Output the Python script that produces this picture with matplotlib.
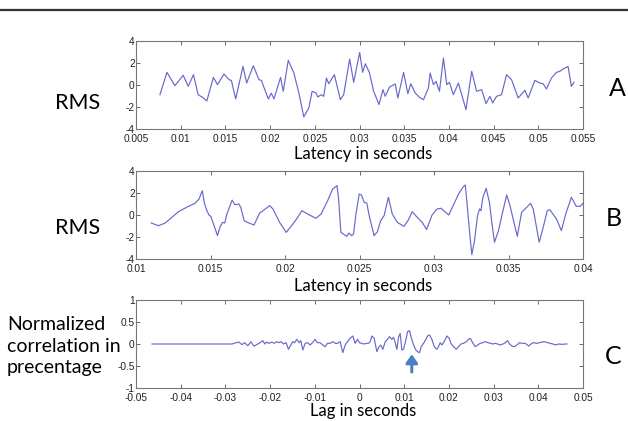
import matplotlib
matplotlib.use('Agg')
import matplotlib.pyplot as plt
from matplotlib.lines import Line2D

# --- data ---
# panel A: RMS vs latency (s)
a_t = [0.00768, 0.00846, 0.00935, 0.01028, 0.01084, 0.01143, 0.01195, 0.01244, 0.01292,
       0.01366, 0.01411, 0.01485, 0.01541, 0.01567, 0.01615, 0.01697, 0.01738, 0.01812,
       0.01876, 0.01902, 0.0198, 0.02013, 0.02043, 0.02117, 0.02147, 0.02203, 0.02266,
       0.02322, 0.02377, 0.02433, 0.0247, 0.02515, 0.02533, 0.02571, 0.026, 0.0263,
       0.02656, 0.02719, 0.02786, 0.02823, 0.0289, 0.02935, 0.03002, 0.03035, 0.03065,
       0.0311, 0.03158, 0.03218, 0.03262, 0.03288, 0.03336, 0.034, 0.03429, 0.03493,
       0.03541, 0.03574, 0.03623, 0.03671, 0.03716, 0.03771, 0.0379, 0.03827, 0.03857,
       0.03894, 0.03939, 0.03976, 0.04006, 0.0405, 0.04106, 0.04191, 0.04255, 0.0431,
       0.04366, 0.04415, 0.04459, 0.04489, 0.04533, 0.04589, 0.04645, 0.04701, 0.04775,
       0.0485, 0.04887, 0.04961, 0.05017, 0.05054, 0.05091, 0.05147, 0.05203, 0.0524,
       0.05277, 0.05333, 0.0537, 0.054]
a_rms = [-0.88, 1.15, -0.06, 0.88, -0.12, 0.94, -0.88, -1.12, -1.45,
         0.69, 0.03, 1.0, 0.48, 0.42, -1.27, 1.69, 0.18, 1.75,
         0.48, 0.42, -1.27, -0.73, -1.27, 0.69, -0.57, 2.24, 1.09,
         -0.73, -2.9, -2.08, -0.57, -0.73, -1.09, -0.88, -1.03, 0.63,
         0.12, 0.94, -1.33, -0.88, 2.36, 0.24, 2.96, 1.15, 1.93,
         1.15, -0.57, -1.78, -0.42, -1.03, -0.18, 0.09, -1.18, 1.15,
         -0.79, 0.12, -0.73, -1.12, -1.33, -0.27, 1.09, 0.03, 0.33,
         -0.57, 2.45, 0.03, 0.24, -0.88, 0.18, -2.24, 1.24, -0.57,
         -0.42, -1.69, -1.03, -1.63, -1.03, -0.88, 0.94, 0.48, -1.18,
         -0.48, -1.18, 0.42, 0.18, 0.12, -0.36, 0.63, 1.15, 1.24,
         1.45, 1.69, -0.12, 0.24]

# panel B: RMS vs latency (s)
b_t = [0.01102, 0.01151, 0.01196, 0.01285, 0.01352, 0.01396, 0.01423, 0.01445, 0.01458,
       0.01474, 0.0149, 0.01503, 0.01547, 0.01563, 0.01581, 0.01596, 0.01608, 0.01645,
       0.01663, 0.0169, 0.01703, 0.01726, 0.01748, 0.01792, 0.0183, 0.01852, 0.01897,
       0.01919, 0.01964, 0.02008, 0.02053, 0.02086, 0.02113, 0.02164, 0.02208, 0.02242,
       0.02286, 0.0232, 0.02335, 0.02349, 0.0236, 0.02375, 0.02398, 0.02415, 0.02429,
       0.02447, 0.0246, 0.02476, 0.02498, 0.02513, 0.02531, 0.02549, 0.02565, 0.02598,
       0.0262, 0.02642, 0.02665, 0.02694, 0.0272, 0.02754, 0.02798, 0.02825, 0.02854,
       0.02887, 0.02921, 0.0295, 0.02987, 0.03021, 0.03047, 0.03099, 0.03165, 0.03194,
       0.0321, 0.03221, 0.03239, 0.03254, 0.03272, 0.03292, 0.03306, 0.03315, 0.03328,
       0.0335, 0.03372, 0.03388, 0.03406, 0.03433, 0.03455, 0.03488, 0.0351, 0.03559,
       0.03588, 0.03622, 0.03648, 0.03666, 0.03706, 0.03733, 0.0376, 0.03777, 0.03822,
       0.03855, 0.03884, 0.03922, 0.03955, 0.03982, 0.04]
b_rms = [-0.73, -0.97, -0.73, 0.3, 0.79, 1.06, 1.45, 2.21, 1.15,
         0.45, 0.0, -0.15, -1.88, -1.12, -0.67, -0.73, 0.0, 1.36,
         0.94, 1.0, 0.7, -0.52, -0.67, -0.91, 0.18, 0.39, 0.85,
         0.55, -0.67, -1.58, -0.82, -0.21, 0.39, 0.0, -0.3, 0.09,
         1.3, 2.36, 2.52, 2.67, 1.45, -1.58, -1.79, -1.94, -1.64,
         -1.88, -1.73, 0.09, 1.91, 1.82, 1.15, 1.09, -0.06, -1.88,
         -1.52, -0.52, -0.06, 1.61, 0.09, -0.67, -1.03, -0.52, 0.3,
         -0.21, -0.67, -1.33, 0.0, 0.55, 0.61, 0.0, 1.91, 2.52,
         2.73, 1.15, -1.58, -3.61, -2.33, -0.06, 0.55, 0.39, 1.61,
         2.42, 1.15, -0.67, -2.48, -1.42, -0.06, 1.82, 0.85, -1.94,
         0.24, 0.7, 1.06, 0.55, -2.48, -1.12, 0.39, 0.48, -0.36,
         -1.42, 0.09, 1.61, 0.79, 0.79, 1.06]

# panel C: normalized cross-correlation vs lag (s)
c_lag = [-0.0464, -0.0285, -0.0279, -0.0270, -0.0263, -0.0257, -0.0250, -0.0243, -0.0236,
         -0.02224, -0.02164, -0.02119, -0.02075, -0.02022, -0.01963, -0.0191, -0.01851,
         -0.01799, -0.01754, -0.01701, -0.01642, -0.0159, -0.01537, -0.01493, -0.01455,
         -0.01403, -0.01351, -0.01313, -0.01269, -0.01216, -0.01164, -0.01104, -0.01052,
         -0.00993, -0.0094, -0.00881, -0.00821, -0.00769, -0.00716, -0.00657, -0.00597,
         -0.00545, -0.00493, -0.00433, -0.00373, -0.00321, -0.00269, -0.00209, -0.00149,
         -0.00097, -0.00045, 0.0, 0.00052, 0.00104, 0.00164, 0.00201, 0.00239, 0.00276,
         0.00328, 0.00388, 0.0044, 0.00478, 0.00522, 0.00575, 0.00627, 0.00672, 0.00724,
         0.00761, 0.00799, 0.00836, 0.00873, 0.0091, 0.00948, 0.00985, 0.01037, 0.01075,
         0.01119, 0.01172, 0.01224, 0.01261, 0.01299, 0.01343, 0.01381, 0.01433, 0.01485,
         0.01522, 0.01567, 0.01619, 0.01672, 0.01731, 0.01769, 0.01806, 0.01843, 0.01881,
         0.01918, 0.01955, 0.02007, 0.02045, 0.02104, 0.02164, 0.02216, 0.02269, 0.02328,
         0.02388, 0.0244, 0.02478, 0.0253, 0.0259, 0.02642, 0.02701, 0.02761, 0.02813,
         0.02873, 0.02925, 0.02985, 0.03037, 0.0309, 0.03149, 0.03209, 0.03261, 0.03313,
         0.03358, 0.0341, 0.03463, 0.03522, 0.03575, 0.03634, 0.03709, 0.03784, 0.03836,
         0.03896, 0.0397, 0.0403, 0.04082, 0.04134, 0.04209, 0.04269, 0.04328, 0.04381,
         0.04455, 0.0453, 0.04604, 0.04642]
c_corr = [0.0, 0.0, 0.02, 0.045, -0.015, 0.03, -0.04, 0.05, -0.05,
          0.03, 0.076, 0.0, 0.045, 0.015, 0.045, 0.015, 0.053,
          0.03, 0.053, 0.0, 0.03, -0.12, -0.023, 0.053, 0.03,
          0.106, 0.03, 0.076, -0.136, 0.015, 0.03, -0.023, 0.03,
          0.106, 0.03, 0.03, -0.023, -0.06, 0.015, 0.015, 0.053,
          0.015, 0.015, 0.053, -0.197, -0.023, 0.053, 0.129, 0.182,
          0.015, 0.106, 0.03, 0.015, 0.0, 0.015, 0.015, 0.053, 0.182,
          0.129, -0.174, -0.06, -0.023, -0.12, 0.053, 0.106, 0.167, 0.106,
          0.152, 0.03, -0.12, 0.152, 0.242, -0.136, -0.12, 0.091, 0.28,
          0.303, 0.091, -0.06, -0.136, -0.174, -0.197, -0.06, 0.015, 0.106,
          0.182, 0.205, 0.106, -0.06, -0.12, -0.06, 0.03, -0.023, 0.03,
          0.106, 0.182, 0.129, 0.015, -0.06, -0.12, -0.06, 0.0, 0.015,
          0.053, 0.106, 0.129, 0.03, -0.06, -0.023, 0.015, 0.03, 0.053,
          0.03, 0.015, 0.0, 0.015, 0.0, -0.023, 0.0, 0.03, 0.076,
          0.0, -0.045, -0.06, -0.023, 0.03, 0.015, 0.015, -0.045, 0.0,
          0.03, 0.015, 0.03, 0.045, 0.053, 0.03, 0.015, 0.0, -0.023,
          0.0, -0.008, 0.0, 0.0]

# arrow marking the peak lag
arrow_lag = 0.0117
arrow_from, arrow_to = -0.7, -0.17

a_xticks = [0.005, 0.01, 0.015, 0.02, 0.025, 0.03, 0.035, 0.04, 0.045, 0.05, 0.055]
a_xlabels = ['0.005', '0.01', '0.015', '0.02', '0.025', '0.03', '0.035', '0.04', '0.045', '0.05', '0.055']
b_xticks = [0.01, 0.015, 0.02, 0.025, 0.03, 0.035, 0.04]
b_xlabels = ['0.01', '0.015', '0.02', '0.025', '0.03', '0.035', '0.04']
c_xticks = [-0.05, -0.04, -0.03, -0.02, -0.01, 0, 0.01, 0.02, 0.03, 0.04, 0.05]
c_xlabels = ['-0.05', '-0.04', '-0.03', '-0.02', '-0.01', '0', '0.01', '0.02', '0.03', '0.04', '0.05']
rms_yticks = [-4, -2, 0, 2, 4]
rms_ylabels = ['-4', '-2', '0', '2', '4']
c_yticks = [-1, -0.5, 0, 0.5, 1]
c_ylabels = ['-1', '-0.5', '0', '0.5', '1']

c_side_lines = ['Normalized', 'correlation in', 'precentage']

line_col = '#6868cc'
tick_font = 'Liberation Sans'
label_font = ['Lato', 'DejaVu Sans']

fig = plt.figure(figsize=(6.28, 4.21), dpi=100)

W, H = 628, 421


def make_ax(top_px, bot_px):
    return fig.add_axes([136 / W, 1 - bot_px / H, 447 / W, (bot_px - top_px) / H])


def style(ax, xt, xl, yt, yl, xlim, ylim):
    ax.set_xlim(*xlim)
    ax.set_ylim(*ylim)
    ax.set_xticks(xt)
    ax.set_xticklabels(xl, fontsize=7.3, family=tick_font)
    ax.set_yticks(yt)
    ax.set_yticklabels(yl, fontsize=7.3, family=tick_font)
    ax.tick_params(direction='in', top=True, right=True, length=3, width=0.6,
                   colors='#555555', labelcolor='#222222', pad=1.0)
    ax.tick_params(axis='x', pad=3.4)
    for s in ax.spines.values():
        s.set_color('#777777')
        s.set_linewidth(0.8)


axA = make_ax(41, 129)
axA.plot(a_t, a_rms, color=line_col, lw=0.85, solid_joinstyle='round')
style(axA, a_xticks, a_xlabels, rms_yticks, rms_ylabels, (0.005, 0.055), (-4, 4))

axB = make_ax(171, 259)
axB.plot(b_t, b_rms, color=line_col, lw=0.85, solid_joinstyle='round')
style(axB, b_xticks, b_xlabels, rms_yticks, rms_ylabels, (0.01, 0.04), (-4, 4))

axC = make_ax(300, 388)
axC.plot(c_lag, c_corr, color=line_col, lw=0.85, solid_joinstyle='round')
style(axC, c_xticks, c_xlabels, c_yticks, c_ylabels, (-0.05, 0.05), (-1, 1))
axC.annotate('', xy=(arrow_lag, arrow_to), xytext=(arrow_lag, arrow_from),
             arrowprops=dict(arrowstyle='-|>,head_width=0.35,head_length=0.5',
                             color='#4a7fc1', lw=2.2))

# axis titles and side labels
fig.text(363 / W, 1 - 154 / H, 'Latency in seconds', ha='center', va='center',
         fontsize=12, family=label_font)
fig.text(363 / W, 1 - 286 / H, 'Latency in seconds', ha='center', va='center',
         fontsize=12, family=label_font)
fig.text(363 / W, 1 - 411 / H, 'Lag in seconds', ha='center', va='center',
         fontsize=12, family=label_font)

fig.text(78 / W, 1 - 103 / H, 'RMS', ha='center', va='center', fontsize=15.5, family=label_font)
fig.text(78 / W, 1 - 228 / H, 'RMS', ha='center', va='center', fontsize=15.5, family=label_font)
for txt, ypx in zip(c_side_lines, [325, 346, 367]):
    fig.text(7 / W, 1 - ypx / H, txt, ha='left', va='center', fontsize=14, family=label_font)

fig.text(617 / W, 1 - 88 / H, 'A', ha='center', va='center', fontsize=18, family=label_font)
fig.text(614 / W, 1 - 219 / H, 'B', ha='center', va='center', fontsize=18, family=label_font)
fig.text(613 / W, 1 - 357 / H, 'C', ha='center', va='center', fontsize=18, family=label_font)

# rule across the top of the page
fig.add_artist(Line2D([0, 1], [1 - 10 / H, 1 - 10 / H], color='#333333', lw=1.6,
                      transform=fig.transFigure))

fig.savefig('out.png', dpi=100)
plt.close(fig)
